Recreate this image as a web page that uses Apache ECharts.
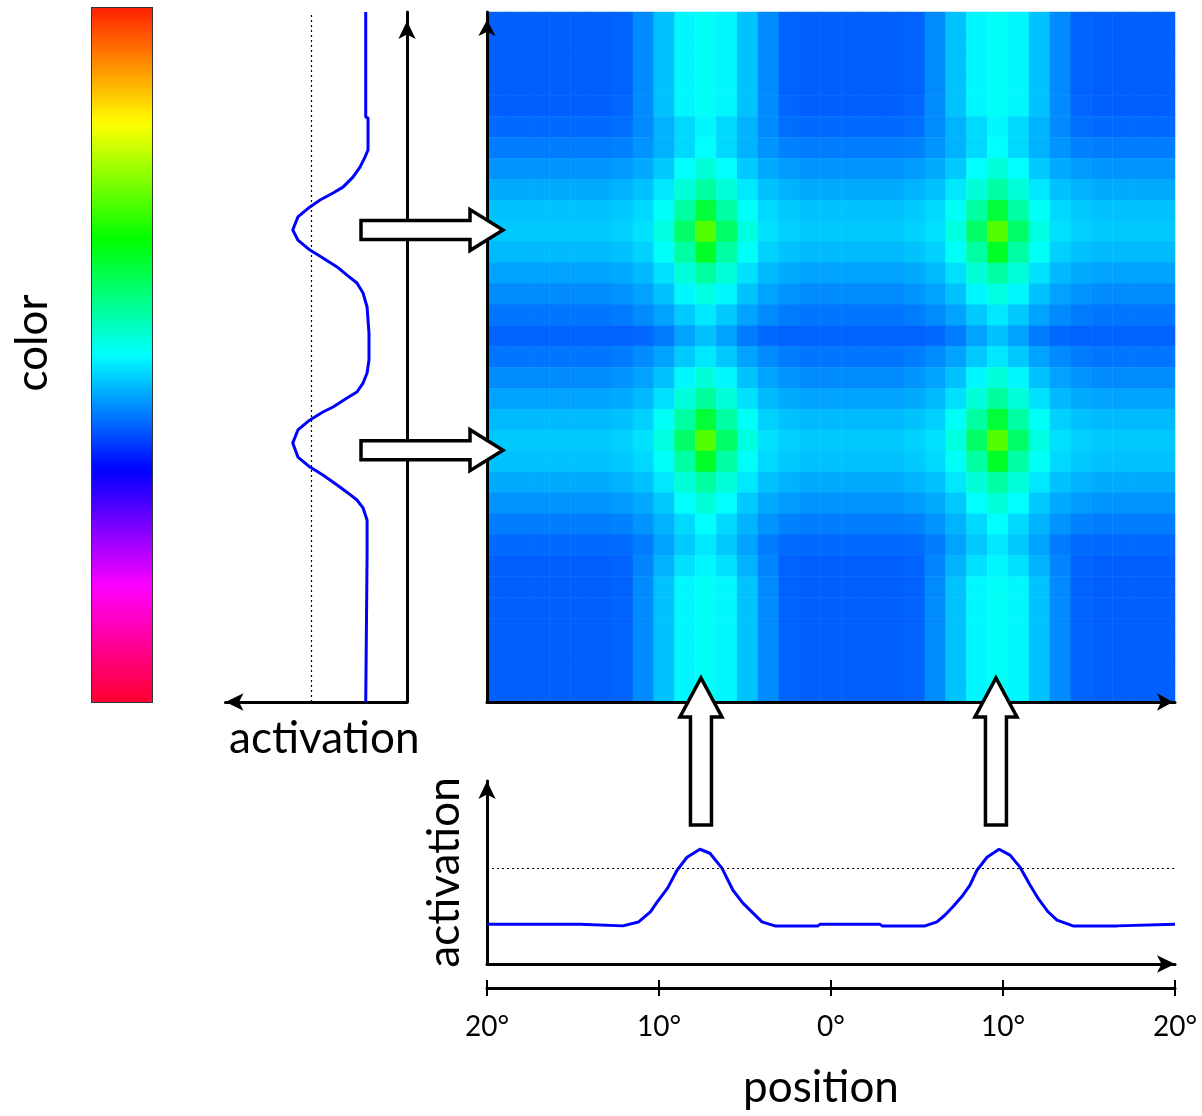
<!DOCTYPE html>
<html>
<head>
<meta charset="utf-8">
<script src="https://cdn.jsdelivr.net/npm/echarts@6/dist/echarts.min.js"></script>
<style>
  html, body { margin: 0; padding: 0; background: #fff; }
  #main { width: 1202px; height: 1116px; }
</style>
</head>
<body>
<div id="main"></div>
<script>
// colour scale of the bar on the left, bottom -> top
const colorStops = ['#ff0030', '#ff00ff', '#0000ff', '#00ffff', '#00ff00', '#ffff00', '#ff2000'];

// bottom input: [position (deg), activation]
const bottomCurve = [
  [-20, 2.08], [-14.6, 2.08], [-14.5, 2.0], [-12.1, 2.0], [-11.2, 2.2], [-10.5, 2.73], [-10.1, 3.26],
  [-9.5, 3.98], [-8.95, 4.92], [-8.37, 5.6], [-7.62, 6.02], [-7.04, 5.81], [-6.34, 5.03], [-5.7, 3.87],
  [-5.12, 3.19], [-4.53, 2.67], [-4.01, 2.21], [-3.26, 2.0], [-0.76, 2.0], [-0.64, 2.08], [2.85, 2.08],
  [2.97, 2.0], [5.47, 2.0], [6.16, 2.21], [6.63, 2.57], [7.09, 3.0], [7.67, 3.61], [8.08, 4.14],
  [8.49, 4.92], [9.07, 5.6], [9.77, 6.02], [10.41, 5.71], [10.99, 5.08], [11.57, 4.14], [12.03, 3.46],
  [12.62, 2.74], [13.14, 2.3], [14.07, 2.0], [16.63, 2.0], [16.74, 2.08], [20, 2.08]
];

// left input: [activation, position (deg)]
const leftCurve = [
  [2.16, 20], [2.16, 13.91], [2.04, 13.86], [2.04, 12.0], [2.2, 11.59], [2.46, 11.01], [2.83, 10.43],
  [3.35, 9.85], [3.87, 9.51], [4.55, 9.1], [5.08, 8.7], [5.71, 8.12], [5.98, 7.36], [5.71, 6.78],
  [5.08, 6.2], [4.4, 5.74], [3.66, 5.22], [3.14, 4.75], [2.62, 4.29], [2.3, 3.71], [2.09, 2.9],
  [2.04, 2.14], [1.99, 1.39], [1.99, -0.17], [2.09, -0.93], [2.3, -1.51], [2.62, -2.03], [3.14, -2.38],
  [3.87, -2.9], [4.4, -3.19], [5.08, -3.65], [5.71, -4.23], [5.98, -4.99], [5.71, -5.8], [5.08, -6.38],
  [4.4, -6.84], [3.66, -7.42], [3.09, -7.88], [2.62, -8.29], [2.3, -8.75], [2.09, -9.45], [2.09, -11.59],
  [2.16, -11.65], [2.16, -20]
];

const threshold = 5;

// where the block arrows point (deg)
const arrowRows = [7.36, -5.4];
const arrowCols = [-7.56, 9.59];

// 2D field, read row by row from the top, 33 x 33 cells (colour scale units)
const heatRows = [
  [39.6,39.6,39.6,39.6,39.6,39.6,39.8,42.5,46,49.5,50.5,49.5,46,42.5,39.8,39.6,39.6,39.6,39.6,39.6,39.8,42.5,46,49.5,50.5,49.5,46,42.5,39.8,39.6,39.6,39.6,39.6],
  [39.6,39.6,39.6,39.6,39.6,39.6,39.8,42.5,46,49.5,50.5,49.5,46,42.5,39.8,39.6,39.6,39.6,39.6,39.6,39.8,42.5,46,49.5,50.5,49.5,46,42.5,39.8,39.6,39.6,39.6,39.6],
  [39.6,39.6,39.6,39.6,39.6,39.6,39.8,42.5,46,49.5,50.5,49.5,46,42.5,39.8,39.6,39.6,39.6,39.6,39.6,39.8,42.5,46,49.5,50.5,49.5,46,42.5,39.8,39.6,39.6,39.6,39.6],
  [39.6,39.6,39.6,39.6,39.6,39.6,39.8,42.5,46,49.5,50.5,49.5,46,42.5,39.8,39.6,39.6,39.6,39.6,39.6,39.8,42.5,46,49.5,50.5,49.5,46,42.5,39.8,39.6,39.6,39.6,39.6],
  [39.6,39.6,39.6,39.6,39.6,39.6,40,42.5,46,49.5,50.5,49.5,46,42.5,40,39.6,39.6,39.6,39.6,39.6,40,42.5,46,49.5,50.5,49.5,46,42.5,40,39.6,39.6,39.6,39.6],
  [40.2,40.2,40.2,40.2,40.2,40.2,40.5,42.5,45,47.5,49.5,47.5,45,42.5,40.5,40.2,40.2,40.2,40.2,40.2,40.5,42.5,45,47.5,49.5,47.5,45,42.5,40.5,40.2,40.2,40.2,40.2],
  [41.5,41.5,41.5,41.5,41.5,41.5,41.8,43,45,47.5,50,47.5,45,43,41.8,41.5,41.5,41.5,41.5,41.5,41.8,43,45,47.5,50,47.5,45,43,41.8,41.5,41.5,41.5,41.5],
  [43,43,43,43,43,43,43.5,44.5,46.5,50,52.5,50,46.5,44.5,43.5,43,43,43,43,43,43.5,44.5,46.5,50,52.5,50,46.5,44.5,43.5,43,43,43,43],
  [44.5,44.5,44.5,44.5,44.5,44.5,45,46,48.5,52.5,56,52.5,48.5,46,45,44.5,44.5,44.5,44.5,44.5,45,46,48.5,52.5,56,52.5,48.5,46,45,44.5,44.5,44.5,44.5],
  [46,46,46,46,46,46,46.5,47.5,50.5,56,63,56,50.5,47.5,46.5,46,46,46,46,46,46.5,47.5,50.5,56,63,56,50.5,47.5,46.5,46,46,46,46],
  [46.5,46.5,46.5,46.5,46.5,46.5,47,48,52,60,72,60,52,48,47,46.5,46.5,46.5,46.5,46.5,47,48,52,60,72,60,52,48,47,46.5,46.5,46.5,46.5],
  [45.5,45.5,45.5,45.5,45.5,45.5,46,47,50.5,56,64,56,50.5,47,46,45.5,45.5,45.5,45.5,45.5,46,47,50.5,56,64,56,50.5,47,46,45.5,45.5,45.5,45.5],
  [44,44,44,44,44,44,44.5,45.5,48,52.5,56,52.5,48,45.5,44.5,44,44,44,44,44,44.5,45.5,48,52.5,56,52.5,48,45.5,44.5,44,44,44,44],
  [42.5,42.5,42.5,42.5,42.5,42.5,43,44,46,49.5,52,49.5,46,44,43,42.5,42.5,42.5,42.5,42.5,43,44,46,49.5,52,49.5,46,44,43,42.5,42.5,42.5,42.5],
  [41,41,41,41,41,41,41.5,42.5,44,46.5,48.5,46.5,44,42.5,41.5,41,41,41,41,41,41.5,42.5,44,46.5,48.5,46.5,44,42.5,41.5,41,41,41,41],
  [39.8,39.8,39.8,39.8,39.8,39.8,39.8,40.2,41.5,44,46,44,41.5,40.2,39.8,39.8,39.8,39.8,39.8,39.8,39.8,40.2,41.5,44,46,44,41.5,40.2,39.8,39.8,39.8,39.8,39.8],
  [41,41,41,41,41,41,41.5,42.5,44,46.5,48.5,46.5,44,42.5,41.5,41,41,41,41,41,41.5,42.5,44,46.5,48.5,46.5,44,42.5,41.5,41,41,41,41],
  [42.5,42.5,42.5,42.5,42.5,42.5,43,44,46,49.5,52.5,49.5,46,44,43,42.5,42.5,42.5,42.5,42.5,43,44,46,49.5,52.5,49.5,46,44,43,42.5,42.5,42.5,42.5],
  [44,44,44,44,44,44,44.5,45.5,48,52.5,56.5,52.5,48,45.5,44.5,44,44,44,44,44,44.5,45.5,48,52.5,56.5,52.5,48,45.5,44.5,44,44,44,44],
  [45.5,45.5,45.5,45.5,45.5,45.5,46,47,50.5,56,63,56,50.5,47,46,45.5,45.5,45.5,45.5,45.5,46,47,50.5,56,63,56,50.5,47,46,45.5,45.5,45.5,45.5],
  [46.5,46.5,46.5,46.5,46.5,46.5,47,48,52,60,72,60,52,48,47,46.5,46.5,46.5,46.5,46.5,47,48,52,60,72,60,52,48,47,46.5,46.5,46.5,46.5],
  [46,46,46,46,46,46,46.5,47.5,50.5,56,64,56,50.5,47.5,46.5,46,46,46,46,46,46.5,47.5,50.5,56,64,56,50.5,47.5,46.5,46,46,46,46],
  [44.5,44.5,44.5,44.5,44.5,44.5,45,46,48.5,52.5,56,52.5,48.5,46,45,44.5,44.5,44.5,44.5,44.5,45,46,48.5,52.5,56,52.5,48.5,46,45,44.5,44.5,44.5,44.5],
  [43,43,43,43,43,43,43.5,44.5,46.5,50,52.5,50,46.5,44.5,43.5,43,43,43,43,43,43.5,44.5,46.5,50,52.5,50,46.5,44.5,43.5,43,43,43,43],
  [41.5,41.5,41.5,41.5,41.5,41.5,41.8,43,45,47.5,50,47.5,45,43,41.8,41.5,41.5,41.5,41.5,41.5,41.8,43,45,47.5,50,47.5,45,43,41.8,41.5,41.5,41.5,41.5],
  [40.2,40.2,40.2,40.2,40.2,40.2,40.3,41.5,44,46.5,48.5,46.5,44,41.5,40.3,40.2,40.2,40.2,40.2,40.2,40.3,41.5,44,46.5,48.5,46.5,44,41.5,40.3,40.2,40.2,40.2,40.2],
  [39.6,39.6,39.6,39.6,39.6,39.6,39.8,42,45,48,49.5,48,45,42,39.8,39.6,39.6,39.6,39.6,39.6,39.8,42,45,48,49.5,48,45,42,39.8,39.6,39.6,39.6,39.6],
  [39.6,39.6,39.6,39.6,39.6,39.6,39.8,42.5,46,49.5,50.5,49.5,46,42.5,39.8,39.6,39.6,39.6,39.6,39.6,39.8,42.5,46,49.5,50.5,49.5,46,42.5,39.8,39.6,39.6,39.6,39.6],
  [39.6,39.6,39.6,39.6,39.6,39.6,39.8,42.5,46,49.5,50.5,49.5,46,42.5,39.8,39.6,39.6,39.6,39.6,39.6,39.8,42.5,46,49.5,50.5,49.5,46,42.5,39.8,39.6,39.6,39.6,39.6],
  [39.6,39.6,39.6,39.6,39.6,39.6,39.8,42.5,46,49.5,50.5,49.5,46,42.5,39.8,39.6,39.6,39.6,39.6,39.6,39.8,42.5,46,49.5,50.5,49.5,46,42.5,39.8,39.6,39.6,39.6,39.6],
  [39.6,39.6,39.6,39.6,39.6,39.6,39.8,42.5,46,49.5,50.5,49.5,46,42.5,39.8,39.6,39.6,39.6,39.6,39.6,39.8,42.5,46,49.5,50.5,49.5,46,42.5,39.8,39.6,39.6,39.6,39.6],
  [39.6,39.6,39.6,39.6,39.6,39.6,39.8,42.5,46,49.5,50.5,49.5,46,42.5,39.8,39.6,39.6,39.6,39.6,39.6,39.8,42.5,46,49.5,50.5,49.5,46,42.5,39.8,39.6,39.6,39.6,39.6],
  [39.6,39.6,39.6,39.6,39.6,39.6,39.8,42.5,46,49.5,50.5,49.5,46,42.5,39.8,39.6,39.6,39.6,39.6,39.6,39.8,42.5,46,49.5,50.5,49.5,46,42.5,39.8,39.6,39.6,39.6,39.6]
];

const FONT = 'Lato';
const nRows = heatRows.length;
const colCats = heatRows[0].map((v, j) => String(j));
const rowCats = heatRows.map((r, i) => String(i));
const heatData = [];
heatRows.forEach((row, i) => {
  row.forEach((v, j) => heatData.push([j, nRows - 1 - i, v]));
});

const axisLineStyle = { color: '#000', width: 3 };
const bigText = { fontSize: 44, color: '#000', fontFamily: FONT };

let chart = echarts.init(document.getElementById('main'));
chart.setOption({
  animation: false,
  backgroundColor: '#fff',
  textStyle: { fontFamily: FONT },
  grid: [
    { left: 487, top: 12, width: 688, height: 690 },     // field
    { left: 487, top: 781, width: 688, height: 183 },    // bottom input
    { left: 225.5, top: 12, width: 181.5, height: 690 }  // left input
  ],
  xAxis: [
    {
      type: 'category', gridIndex: 0, data: colCats, z: 10,
      axisLine: { lineStyle: axisLineStyle, symbol: ['none', 'arrow'], symbolSize: [13, 16], symbolOffset: [0, -2] },
      axisTick: { show: false }, axisLabel: { show: false }
    },
    {
      type: 'value', gridIndex: 1, min: -20, max: 20,
      axisLine: { onZero: false, lineStyle: axisLineStyle, symbol: ['none', 'arrow'], symbolSize: [13, 18] },
      axisTick: { show: false }, axisLabel: { show: false }, splitLine: { show: false }
    },
    {
      type: 'value', gridIndex: 1, min: -20, max: 20, interval: 10, position: 'bottom', offset: 24,
      axisLine: { onZero: false, lineStyle: axisLineStyle },
      axisTick: { length: 8, lineStyle: { color: '#000', width: 2 } },
      axisLabel: {
        margin: 25, fontSize: 28, color: '#000', fontFamily: FONT,
        formatter: v => Math.abs(v) + '°'
      },
      splitLine: { show: false },
      name: 'position', nameLocation: 'middle', nameGap: 78,
      nameTextStyle: Object.assign({ padding: [0, 20, 0, 0] }, bigText)
    },
    {
      type: 'value', gridIndex: 1, min: -20, max: 20, interval: 10, position: 'bottom', offset: 24,
      axisLine: { show: false, onZero: false },
      axisTick: { inside: true, length: 8, lineStyle: { color: '#000', width: 2 } },
      axisLabel: { show: false }, splitLine: { show: false }
    },
    {
      type: 'value', gridIndex: 2, min: 0, max: 9.5, inverse: true,
      axisLine: { onZero: false, lineStyle: axisLineStyle, symbol: ['arrow', 'none'], symbolSize: [13, 18] },
      axisTick: { show: false }, axisLabel: { show: false }, splitLine: { show: false },
      name: 'activation', nameLocation: 'middle', nameGap: 15,
      nameTextStyle: Object.assign({ padding: [0, 0, 0, 16] }, bigText)
    }
  ],
  yAxis: [
    {
      type: 'category', gridIndex: 0, data: rowCats, z: 10,
      axisLine: { lineStyle: axisLineStyle, symbol: ['none', 'arrow'], symbolSize: [13, 16], symbolOffset: [0, -8] },
      axisTick: { show: false }, axisLabel: { show: false }
    },
    {
      type: 'value', gridIndex: 1, min: 0, max: 9.6,
      axisLine: { onZero: false, lineStyle: axisLineStyle, symbol: ['none', 'arrow'], symbolSize: [13, 18] },
      axisTick: { show: false }, axisLabel: { show: false }, splitLine: { show: false },
      name: 'activation', nameLocation: 'middle', nameRotate: 90, nameGap: 20,
      nameTextStyle: bigText
    },
    {
      type: 'value', gridIndex: 2, min: -20, max: 20, position: 'right',
      axisLine: { onZero: false, lineStyle: axisLineStyle, symbol: ['none', 'arrow'], symbolSize: [13, 18], symbolOffset: [0, -9] },
      axisTick: { show: false }, axisLabel: { show: false }, splitLine: { show: false }
    }
  ],
  visualMap: {
    type: 'continuous', seriesIndex: 0, min: 0, max: 100,
    calculable: false, orient: 'vertical', left: 91, top: 7,
    itemWidth: 60, itemHeight: 694, padding: 0,
    borderColor: '#333', borderWidth: 2,
    inRange: { color: colorStops }
  },
  series: [
    {
      type: 'heatmap', xAxisIndex: 0, yAxisIndex: 0, data: heatData,
      emphasis: { disabled: true }, silent: true
    },
    {
      type: 'line', xAxisIndex: 1, yAxisIndex: 1, data: bottomCurve,
      symbol: 'none', lineStyle: { color: '#0000ff', width: 3 }, z: 3,
      markLine: {
        silent: true, symbol: ['none', 'none'], label: { show: false },
        lineStyle: { color: '#000', type: [2, 3], width: 1.2 },
        data: [{ yAxis: threshold }]
      }
    },
    {
      type: 'line', xAxisIndex: 4, yAxisIndex: 2, data: leftCurve,
      symbol: 'none', lineStyle: { color: '#0000ff', width: 3 }, z: 3,
      markLine: {
        silent: true, symbol: ['none', 'none'], label: { show: false },
        lineStyle: { color: '#000', type: [2, 3], width: 1.2 },
        data: [{ xAxis: threshold }]
      }
    }
  ]
});

// block arrows pointing from the inputs into the field
const arrowStyle = { fill: '#fff', stroke: '#000', lineWidth: 3.5 };
const graphics = [];
arrowRows.forEach(p => {
  const y = chart.convertToPixel({ yAxisIndex: 2 }, p);
  graphics.push({
    type: 'polygon', z: 100,
    shape: { points: [[361, y - 9.5], [470, y - 9.5], [470, y - 20.5], [503, y], [470, y + 20.5], [470, y + 9.5], [361, y + 9.5]] },
    style: arrowStyle
  });
});
arrowCols.forEach(p => {
  const x = chart.convertToPixel({ xAxisIndex: 1 }, p);
  graphics.push({
    type: 'polygon', z: 100,
    shape: { points: [[x - 10.5, 825], [x - 10.5, 717], [x - 21, 717], [x, 678], [x + 21, 717], [x + 10.5, 717], [x + 10.5, 825]] },
    style: arrowStyle
  });
});
graphics.push({
  type: 'text', z: 100, x: 33, y: 343, rotation: Math.PI / 2,
  style: { text: 'color', fontSize: 44, fontFamily: FONT, fill: '#000', align: 'center', verticalAlign: 'middle' }
});
chart.setOption({ graphic: graphics });
</script>
</body>
</html>
